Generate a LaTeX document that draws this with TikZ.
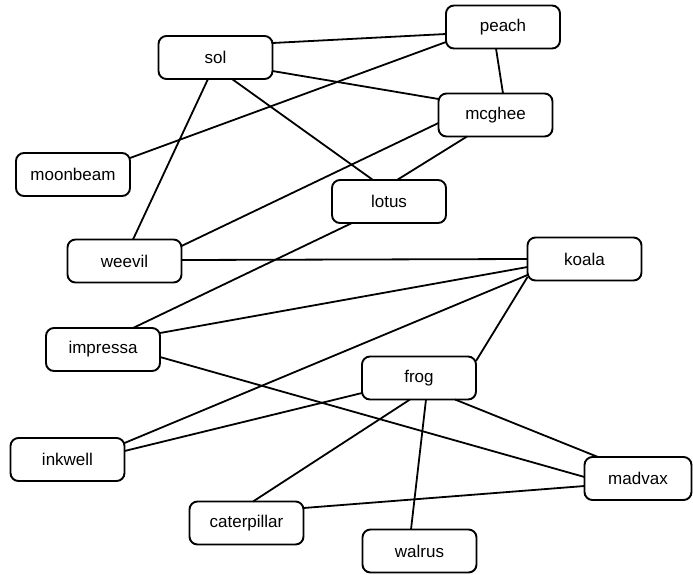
\documentclass[tikz,border=0pt]{standalone}
\usepackage{fontspec}
\setmainfont{Liberation Sans}
\begin{document}
\begin{tikzpicture}[x=1pt,y=-1pt,
  box/.style={draw, line width=1.9pt, rounded corners=8pt,
    minimum width=114pt, minimum height=43pt, inner sep=0pt,
    font=\fontsize{17}{20}\selectfont},
  link/.style={line width=1.8pt}]
\useasboundingbox (0,0) rectangle (693,574);

% nodes
\node[box] (sol)         at (215.5,57.5) {sol};
\node[box] (peach)       at (503,27)     {peach};
\node[box] (mcghee)      at (495.5,115)  {mcghee};
\node[box] (moonbeam)    at (73,174.5)   {moonbeam};
\node[box] (lotus)       at (389,201.5)  {lotus};
\node[box] (weevil)      at (124.5,261)  {weevil};
\node[box] (koala)       at (584.5,259)  {koala};
\node[box] (impressa)    at (103,349.5)  {impressa};
\node[box] (frog)        at (419,378)    {frog};
\node[box] (inkwell)     at (67.5,459.5) {inkwell};
\node[box, minimum width=107pt] (madvax) at (638,478.5) {madvax};
\node[box] (caterpillar) at (246.5,523)  {caterpillar};
\node[box] (walrus)      at (419.5,551)  {walrus};

% connectors, each from a point on one box border to a point on another
\draw[link] ([shift={(57,-14.5)}]sol.center) -- ([shift={(-57,7)}]peach.center);
\draw[link] ([shift={(57,13.5)}]sol.center) -- ([shift={(-57,-16)}]mcghee.center);
\draw[link] ([shift={(16.5,21.5)}]sol.center) -- ([shift={(-16,-21.5)}]lotus.center);
\draw[link] ([shift={(-7.5,21.5)}]sol.center) -- ([shift={(8.5,-21.5)}]weevil.center);
\draw[link] ([shift={(-7,21.5)}]peach.center) -- ([shift={(7.5,-21.5)}]mcghee.center);
\draw[link] ([shift={(-57,15)}]peach.center) -- ([shift={(57,-16.5)}]moonbeam.center);
\draw[link] ([shift={(-57,8)}]mcghee.center) -- ([shift={(57,-15)}]weevil.center);
\draw[link] ([shift={(-28.5,21.5)}]mcghee.center) -- ([shift={(8,-21.5)}]lotus.center);
\draw[link] ([shift={(-37,21.5)}]lotus.center) -- ([shift={(30,-21.5)}]impressa.center);
\draw[link] ([shift={(57,-1)}]weevil.center) -- ([shift={(-57,0)}]koala.center);
\draw[link] ([shift={(-57,8)}]koala.center) -- ([shift={(57,-16.5)}]impressa.center);
\draw[link] ([shift={(-57,16)}]koala.center) -- ([shift={(57,-16.5)}]inkwell.center);
\draw[link] ([shift={(-57,18)}]koala.center) -- ([shift={(57,-17)}]frog.center);
\draw[link] ([shift={(57,7.5)}]impressa.center) -- ([shift={(-53.5,-1.5)}]madvax.center);
\draw[link] ([shift={(-57,15)}]frog.center) -- ([shift={(57,-8.5)}]inkwell.center);
\draw[link] ([shift={(-9,21.5)}]frog.center) -- ([shift={(6.5,-21.5)}]caterpillar.center);
\draw[link] ([shift={(7,21.5)}]frog.center) -- ([shift={(-8.5,-21.5)}]walrus.center);
\draw[link] ([shift={(36,21.5)}]frog.center) -- ([shift={(-40,-21.5)}]madvax.center);
\draw[link] ([shift={(57,-15)}]caterpillar.center) -- ([shift={(-53.5,7.5)}]madvax.center);
\end{tikzpicture}
\end{document}
